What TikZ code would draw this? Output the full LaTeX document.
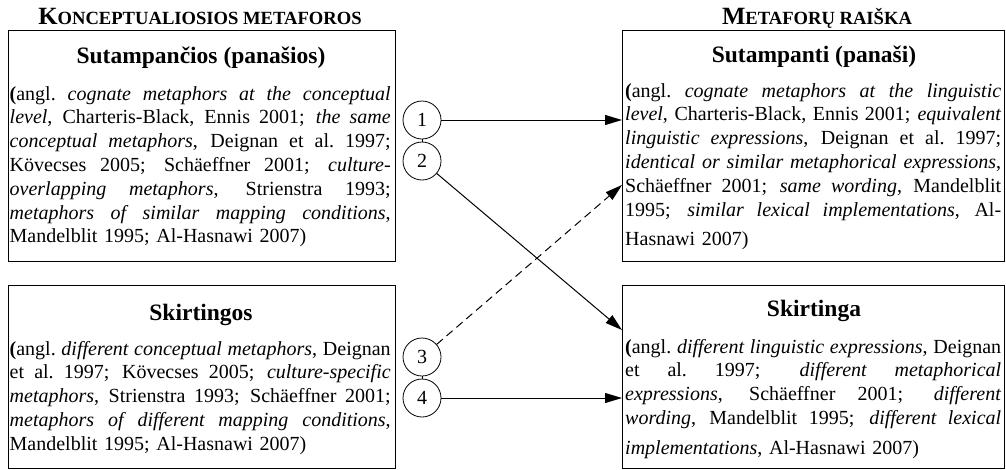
\documentclass[tikz,border=0pt]{standalone}
\usepackage{fontspec}
\setmainfont{Liberation Serif}
\usetikzlibrary{arrows.meta,calc}
\newcommand\bw{381pt}
\newcommand\jl[1]{\noindent\hbox to \bw{\spaceskip=5pt plus 30pt minus 2.5pt\xspaceskip=\spaceskip #1}\par}
\newcommand\lastl[1]{\noindent\hbox to \bw{\xspaceskip=5pt #1\hfil}\par}
\newcommand\bigc{\fontsize{24.8}{24}\selectfont}
\newcommand\smc{\fontsize{18.6}{18}\selectfont}
\begin{document}
\begin{tikzpicture}[x=1pt,y=-1pt,
  box/.style={draw,line width=1.2pt,inner sep=0pt,anchor=north west},
  body/.style={anchor=base west,inner sep=0pt,font=\fontsize{20}{23.8}\selectfont},
  ttl/.style={anchor=base,inner sep=0pt,font=\fontsize{23.5}{24}\selectfont\bfseries},
  hdr/.style={anchor=base,inner sep=0pt,font=\bfseries},
  num/.style={draw,circle,line width=0.8pt,minimum size=38pt,inner sep=0pt,font=\fontsize{20}{20}\selectfont},
  conn/.style={line width=1pt,-{Triangle[length=17pt,width=10pt]}},
  pair/.style={line width=0.8pt}]
\useasboundingbox (0,0) rectangle (1006,469);
% boxes
\node[box,minimum width=387.5pt,minimum height=231pt] (lt) at (7.5,30) {};
\node[box,minimum width=387.5pt,minimum height=183pt] (lb) at (7.5,285) {};
\node[box,minimum width=382pt,minimum height=231pt] (rt) at (622,30) {};
\node[box,minimum width=382pt,minimum height=183pt] (rb) at (622,285) {};
% headers
\node[hdr] (hl) at (200,24) {\bigc K\smc ONCEPTUALIOSIOS METAFOROS};
\node[hdr] (hr) at (817,24) {\bigc M\smc ETAFORŲ RAIŠKA};
% titles
\node[ttl] (tlt) at (201,63) {Sutampančios (panašios)};
\node[ttl] (tlb) at (201,320) {Skirtingos};
\node[ttl] (trt) at (814,62) {Sutampanti (panaši)};
\node[ttl] (trb) at (814,316) {Skirtinga};
% bodies
\node[body,text width=381pt] (blt) at (9.5,100) {\renewcommand\bw{381pt}%
\jl{\textbf{(}angl. \textit{cognate metaphors at the conceptual}}
\jl{\textit{level}, Charteris-Black, Ennis 2001; \textit{the same}}
\jl{\textit{conceptual metaphors}, Deignan et al. 1997;}
\jl{Kövecses 2005; Schäeffner 2001; \textit{culture-}}
\jl{\textit{overlapping metaphors}, Strienstra 1993;}
\jl{\textit{metaphors of similar mapping conditions},}
\lastl{Mandelblit 1995; Al-Hasnawi 2007)}};
\node[body,text width=381pt] (blb) at (9.5,355) {\renewcommand\bw{381pt}%
\jl{\textbf{(}angl. \textit{different conceptual metaphors}, Deignan}
\jl{et al. 1997; Kövecses 2005; \textit{culture-specific}}
\jl{\textit{metaphors}, Strienstra 1993; Schäeffner 2001;}
\jl{\textit{metaphors of different mapping conditions},}
\lastl{Mandelblit 1995; Al-Hasnawi 2007)}};
\node[body,text width=376pt] (brt) at (625,97) {\renewcommand\bw{376pt}%
\jl{\textbf{(}angl. \textit{cognate metaphors at the linguistic}}
\jl{\textit{level}, Charteris-Black, Ennis 2001; \textit{equivalent}}
\jl{\textit{linguistic expressions}, Deignan et al. 1997;}
\jl{\textit{identical or similar metaphorical expressions},}
\jl{Schäeffner 2001; \textit{same wording}, Mandelblit}
\jl{1995; \textit{similar lexical implementations}, Al-}
\vspace{6pt}\lastl{Hasnawi 2007)}};
\node[body,text width=376pt] (brb) at (625,353) {\renewcommand\bw{376pt}%
\jl{\textbf{(}angl. \textit{different linguistic expressions}, Deignan}
\jl{et al. 1997; \textit{different metaphorical}}
\jl{\textit{expressions}, Schäeffner 2001; \textit{different}}
\jl{\textit{wording}, Mandelblit 1995; \textit{different lexical}}
\vspace{6pt}\lastl{\textit{implementations}, Al-Hasnawi 2007)}};
% circles
\node[num] (c1) at (422,120) {1};
\node[num] (c2) at (422,161) {2};
\node[num] (c3) at (422,357) {3};
\node[num] (c4) at (422,398) {4};
\draw[pair] (c1) -- (c2);
\draw[pair] (c3) -- (c4);
% target points
\coordinate (t2) at ($(rb.north west)+(0,45)$);
\coordinate (t3) at ($(rt.north west)+(0,155)$);
% connectors
\draw[conn] (c1) -- (rt.west |- c1);
\draw[conn] (c2) -- (t2);
\draw[conn,dash pattern=on 8pt off 5pt] (c3) -- (t3);
\draw[conn] (c4) -- (rb.west |- c4);
\end{tikzpicture}
\end{document}
